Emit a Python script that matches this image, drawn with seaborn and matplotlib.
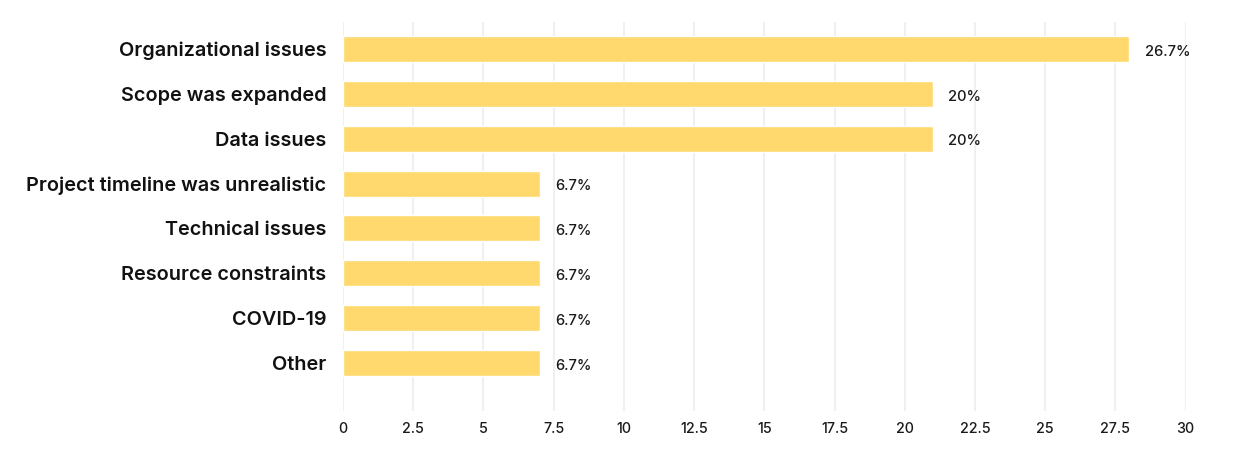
import seaborn as sns
import matplotlib.pyplot as plt
import pandas as pd

categories = [
    "Organizational issues",
    "Scope was expanded",
    "Data issues",
    "Project timeline was unrealistic",
    "Technical issues",
    "Resource constraints",
    "COVID-19",
    "Other",
]
counts = [28, 21, 21, 7, 7, 7, 7, 7]
x_ticks = [0, 2.5, 5, 7.5, 10, 12.5, 15, 17.5, 20, 22.5, 25, 27.5, 30]

total = sum(counts)
pct_labels = []
for c in counts:
    p = round(c / total * 100, 1)
    pct_labels.append((f"{p:.1f}".rstrip("0").rstrip(".")) + "%")

df = pd.DataFrame({"raison": categories, "valeur": counts})

sns.set_theme(style="white")
plt.rcParams['font.family'] = ['Inter', 'DejaVu Sans']

fig = plt.figure(figsize=(12.56, 4.58), dpi=100)
ax = fig.add_axes([0.273, 0.1026, 0.671, 0.8494])

sns.barplot(data=df, x="valeur", y="raison", color="#FFD96E", saturation=1,
            width=0.58, ax=ax, zorder=2)

for i, (c, lab) in enumerate(zip(counts, pct_labels)):
    ax.annotate(lab, xy=(c, i), xytext=(11, -2), textcoords="offset points",
                va="center", ha="left", fontsize=10.6, fontweight="medium",
                color="#1a1a1a")

ax.set_xlim(0, 30)
ax.set_ylim(8.07, -0.6)
ax.set_xticks(x_ticks)
ax.set_xticklabels([f"{t:g}" for t in x_ticks])
ax.xaxis.grid(True, color="#F0F0F0", linewidth=1.5, zorder=0)
ax.yaxis.grid(False)
ax.set_axisbelow(True)
for s in ax.spines.values():
    s.set_visible(False)
ax.tick_params(axis="both", length=0)
ax.tick_params(axis="x", labelsize=10.3, labelcolor="#1a1a1a", pad=8)
ax.tick_params(axis="y", labelsize=14.3, labelcolor="#111111", pad=12)
for t in ax.get_yticklabels():
    t.set_fontweight("semibold")
for t in ax.get_xticklabels():
    t.set_fontweight("medium")
ax.set_xlabel("")
ax.set_ylabel("")

fig.savefig("out.png", dpi=100)
plt.close(fig)
